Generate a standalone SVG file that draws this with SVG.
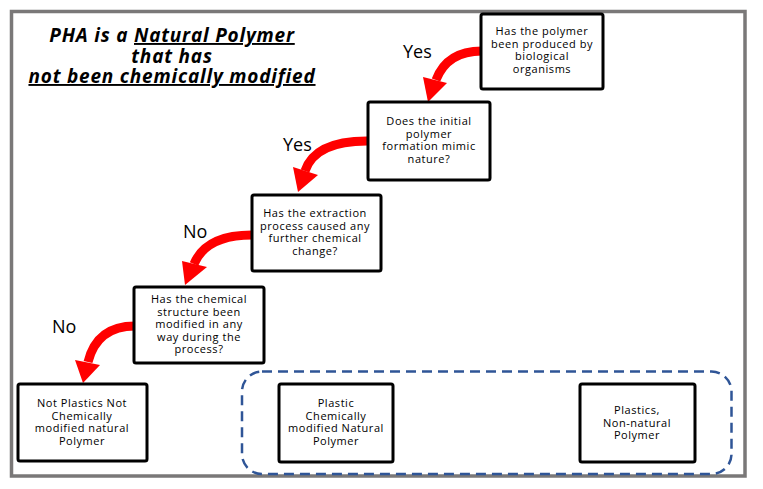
<svg xmlns="http://www.w3.org/2000/svg" width="763" height="489" viewBox="0 0 763 489">
<style>
.box{fill:#fff;stroke:#000;stroke-width:3}
.bt{font-family:"Open Sans","Liberation Sans",sans-serif;font-size:11px;letter-spacing:0.55px;fill:#000;text-anchor:middle}
.lbl{font-family:"Open Sans","Liberation Sans",sans-serif;font-size:18px;fill:#000}
.title{font-family:"Open Sans","Liberation Sans",sans-serif;font-size:19px;letter-spacing:0.8px;font-weight:bold;font-style:italic;fill:#000;text-anchor:middle}
.shaft{fill:none;stroke:#ff0000;stroke-width:9}
.head{fill:#ff0000}
</style>
<rect x="0" y="0" width="763" height="489" fill="#fff"/>
<rect x="11.5" y="11.5" width="733.5" height="464.5" fill="#fff" stroke="#7a7878" stroke-width="3.5"/>
<g id="title">
<text class="title" x="172" y="42">PHA is a <tspan text-decoration="underline">Natural Polymer</tspan></text>
<text class="title" x="172" y="63">that has</text>
<text class="title" x="172" y="83" text-decoration="underline">not been chemically modified</text>
</g>
<g id="group-plastics">
<rect x="242" y="371.5" width="489.5" height="102.5" rx="20" fill="none" stroke="#2f5597" stroke-width="2.5" stroke-dasharray="10 6"/>
</g>
<g id="connectors">
<path class="shaft" d="M482,51 Q447,51 436,80"/>
<polygon class="head" points="423,77 447,83 428,102"/>
<text class="lbl" x="403" y="58">Yes</text>
<path class="shaft" d="M367,141 Q315,141 305,171"/>
<polygon class="head" points="293,167 318,175 298,192"/>
<text class="lbl" x="283" y="151">Yes</text>
<path class="shaft" d="M252,235 Q206,235 194,264"/>
<polygon class="head" points="182,261 207,267 185,285"/>
<text class="lbl" x="183" y="238">No</text>
<path class="shaft" d="M135,326 Q97,326 88,362"/>
<polygon class="head" points="75,360 100,365 83,383"/>
<text class="lbl" x="52" y="333">No</text>
</g>
<g id="n1">
<rect class="box" x="481" y="14" width="122" height="75" rx="2"/>
<text class="bt" x="542" y="35">Has the polymer</text>
<text class="bt" x="542" y="47.5">been produced by</text>
<text class="bt" x="542" y="60">biological</text>
<text class="bt" x="542" y="72.5">organisms</text>
</g>
<g id="n2">
<rect class="box" x="368" y="102" width="122" height="78" rx="2"/>
<text class="bt" x="429" y="125">Does the initial</text>
<text class="bt" x="429" y="137.5">polymer</text>
<text class="bt" x="429" y="150">formation mimic</text>
<text class="bt" x="429" y="162.5">nature?</text>
</g>
<g id="n3">
<rect class="box" x="252" y="195" width="129" height="76" rx="2"/>
<text class="bt" x="315" y="217">Has the extraction</text>
<text class="bt" x="315" y="229.5">process caused any</text>
<text class="bt" x="315" y="242">further chemical</text>
<text class="bt" x="315" y="254.5">change?</text>
</g>
<g id="n4">
<rect class="box" x="134" y="287" width="130" height="76" rx="2"/>
<text class="bt" x="199" y="303">Has the chemical</text>
<text class="bt" x="199" y="315.5">structure been</text>
<text class="bt" x="199" y="328">modified in any</text>
<text class="bt" x="199" y="340.5">way during the</text>
<text class="bt" x="199" y="353">process?</text>
</g>
<g id="n5">
<rect class="box" x="18" y="384" width="129" height="77" rx="2"/>
<text class="bt" x="82" y="407">Not Plastics Not</text>
<text class="bt" x="82" y="419.5">Chemically</text>
<text class="bt" x="82" y="432">modified natural</text>
<text class="bt" x="82" y="444.5">Polymer</text>
</g>
<g id="n6">
<rect class="box" x="279" y="384" width="114" height="78" rx="2"/>
<text class="bt" x="336" y="407">Plastic</text>
<text class="bt" x="336" y="419.5">Chemically</text>
<text class="bt" x="336" y="432">modified Natural</text>
<text class="bt" x="336" y="444.5">Polymer</text>
</g>
<g id="n7">
<rect class="box" x="580" y="384" width="115" height="78" rx="2"/>
<text class="bt" x="637" y="414">Plastics,</text>
<text class="bt" x="637" y="426.5">Non-natural</text>
<text class="bt" x="637" y="439">Polymer</text>
</g>
</svg>
